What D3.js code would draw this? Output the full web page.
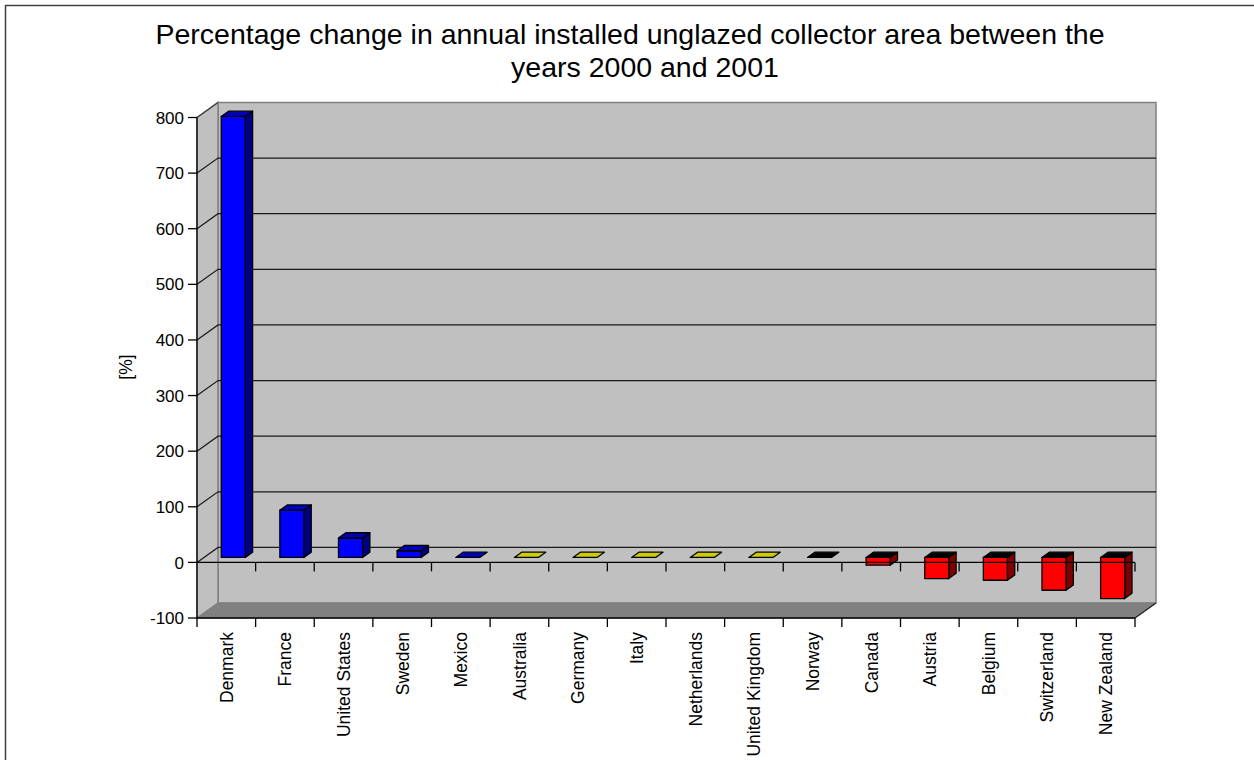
<!DOCTYPE html>
<html>
<head>
<meta charset="utf-8">
<script src="https://cdn.jsdelivr.net/npm/d3@7"></script>
<style>
  html, body { margin: 0; padding: 0; background: #fff; }
  svg { display: block; font-family: "Liberation Sans", Arial, sans-serif; }
</style>
</head>
<body>
<svg id="chart" width="1254" height="760"></svg>
<script>
// ---- data ----
const titleLines = ["Percentage change in annual installed unglazed collector area between the", "years 2000 and 2001"];
const yAxisTitle = "[%]";
const categories = ["Denmark", "France", "United States", "Sweden", "Mexico", "Australia", "Germany", "Italy",
  "Netherlands", "United Kingdom", "Norway", "Canada", "Austria", "Belgium", "Switzerland", "New Zealand"];
const values = [793, 85, 35, 12, 0, 0, 0, 0, 0, 0, 0, -14, -38, -41, -59, -74];
const yTicks = [-100, 0, 100, 200, 300, 400, 500, 600, 700, 800];
// colour group of each bar (style only)
const colorGroup = ["blue", "blue", "blue", "blue", "blue", "yellow", "yellow", "yellow",
  "yellow", "yellow", "black", "red", "red", "red", "red", "red"];

// ---- styles ----
const palette = {
  blue:   { front: "#0000ff", side: "#000080", top: "#0000b8" },
  red:    { front: "#ff0000", side: "#800000", top: "#000000" },
  yellow: { front: "#ffff00", side: "#808000", top: "#cccc00" },
  black:  { front: "#000000", side: "#000000", top: "#000000" }
};
const DX = 21, DY = 15;           // depth offset of the 3D box
const F0 = 0.33, F1 = 0.68;        // bar depth fractions

const svg = d3.select("#chart");

const x = d3.scaleBand().domain(categories).range([197, 1135]).paddingInner(0).paddingOuter(0);
const y = d3.scaleLinear().domain([-100, 800]).range([618, 117.5]);
const yMin = -100, yMax = 800;

// point in 3D (front plane coords + depth fraction) -> screen
const P = (px, v, f) => [px + f * DX, y(v) - f * DY];
const poly = pts => pts.map(p => p.join(",")).join(" ");

// outer border
svg.append("rect").attr("x", 5.5).attr("y", 5.5).attr("width", 1300).attr("height", 900)
  .attr("fill", "none").attr("stroke", "#404040").attr("stroke-width", 1.5);

// title
const tl = svg.append("g").attr("font-size", 28.5).attr("fill", "#000").attr("text-anchor", "middle");
tl.append("text").attr("x", 630).attr("y", 43.5).text(titleLines[0]);
tl.append("text").attr("x", 645).attr("y", 76.5).text(titleLines[1]);

const x0 = x.range()[0], x1 = x.range()[1];

// back wall
svg.append("polygon")
  .attr("points", poly([P(x0, yMax, 1), P(x1, yMax, 1), P(x1, yMin, 1), P(x0, yMin, 1)]))
  .attr("fill", "#c0c0c0").attr("stroke", "#808080").attr("stroke-width", 1.5);
// side wall
svg.append("polygon")
  .attr("points", poly([P(x0, yMax, 0), P(x0, yMax, 1), P(x0, yMin, 1), P(x0, yMin, 0)]))
  .attr("fill", "#c0c0c0").attr("stroke", "#808080").attr("stroke-width", 1.5);

// gridlines on back & side walls
const grid = svg.append("g").attr("stroke", "#1a1a1a").attr("stroke-width", 1.2).attr("fill", "none");
yTicks.filter(t => t > yMin && t < yMax).forEach(t => {
  grid.append("polyline").attr("points", poly([P(x0, t, 0), P(x0, t, 1), P(x1, t, 1)]));
});
grid.append("line").attr("x1", P(x0, yMax, 0)[0]).attr("y1", P(x0, yMax, 0)[1])
  .attr("x2", P(x0, yMax, 1)[0]).attr("y2", P(x0, yMax, 1)[1]).attr("stroke", "#404040");

// floor
svg.append("polygon")
  .attr("points", poly([P(x0, yMin, 0), P(x1, yMin, 0), P(x1, yMin, 1), P(x0, yMin, 1)]))
  .attr("fill", "#808080").attr("stroke", "#808080").attr("stroke-width", 1);
svg.append("line")
  .attr("x1", P(x1, yMin, 0)[0]).attr("y1", P(x1, yMin, 0)[1])
  .attr("x2", P(x1, yMin, 1)[0]).attr("y2", P(x1, yMin, 1)[1])
  .attr("stroke", "#222").attr("stroke-width", 1.2);

// bars
const bw = x.bandwidth() * 0.41;
const bars = svg.append("g").attr("stroke", "#000").attr("stroke-width", 1.3).attr("stroke-linejoin", "round");
categories.forEach((c, i) => {
  const v = values[i];
  const col = palette[colorGroup[i]];
  const a = x(c) + (x.bandwidth() - bw) / 2, b = a + bw;
  const hi = Math.max(v, 0), lo = Math.min(v, 0);
  const g = bars.append("g");
  if (hi !== lo) {
    g.append("polygon").attr("points", poly([P(b, hi, F0), P(b, hi, F1), P(b, lo, F1), P(b, lo, F0)]))
      .attr("fill", col.side);
    g.append("polygon").attr("points", poly([P(a, hi, F0), P(b, hi, F0), P(b, lo, F0), P(a, lo, F0)]))
      .attr("fill", col.front);
  }
  g.append("polygon").attr("points", poly([P(a, hi, F0), P(b, hi, F0), P(b, hi, F1), P(a, hi, F1)]))
    .attr("fill", col.top);
});

// axes on top
const ax = svg.append("g").attr("stroke", "#000").attr("stroke-width", 1.3).attr("fill", "none");
// vertical value axis
ax.append("line").attr("x1", x0).attr("x2", x0).attr("y1", y(yMax)).attr("y2", y(yMin) + 9);
yTicks.forEach(t => {
  ax.append("line").attr("x1", x0 - 9).attr("x2", x0).attr("y1", y(t)).attr("y2", y(t));
});
// category axis at zero and floor front edge
[0, yMin].forEach(lv => {
  ax.append("line").attr("x1", x0).attr("x2", x1).attr("y1", y(lv)).attr("y2", y(lv));
  categories.forEach(c => {
    const xb = x(c) + x.bandwidth();
    ax.append("line").attr("x1", xb).attr("x2", xb).attr("y1", y(lv)).attr("y2", y(lv) + 9);
  });
});

// value tick labels
svg.append("g").attr("font-size", 17).attr("text-anchor", "end").attr("fill", "#000")
  .selectAll("text").data(yTicks).join("text")
  .attr("x", x0 - 13).attr("y", d => y(d)).attr("dy", "0.36em").text(d => d);

// category labels
svg.append("g").attr("font-size", 17.5).attr("text-anchor", "end").attr("fill", "#000")
  .selectAll("text").data(categories).join("text")
  .attr("transform", d => `translate(${x(d) + x.bandwidth() / 2},632) rotate(-90)`)
  .attr("dy", "0.36em").text(d => d);

// y axis title
svg.append("text").attr("font-size", 17.5).attr("text-anchor", "middle")
  .attr("transform", "translate(126,367) rotate(-90)").attr("dy", "0.36em").text(yAxisTitle);
</script>
</body>
</html>
